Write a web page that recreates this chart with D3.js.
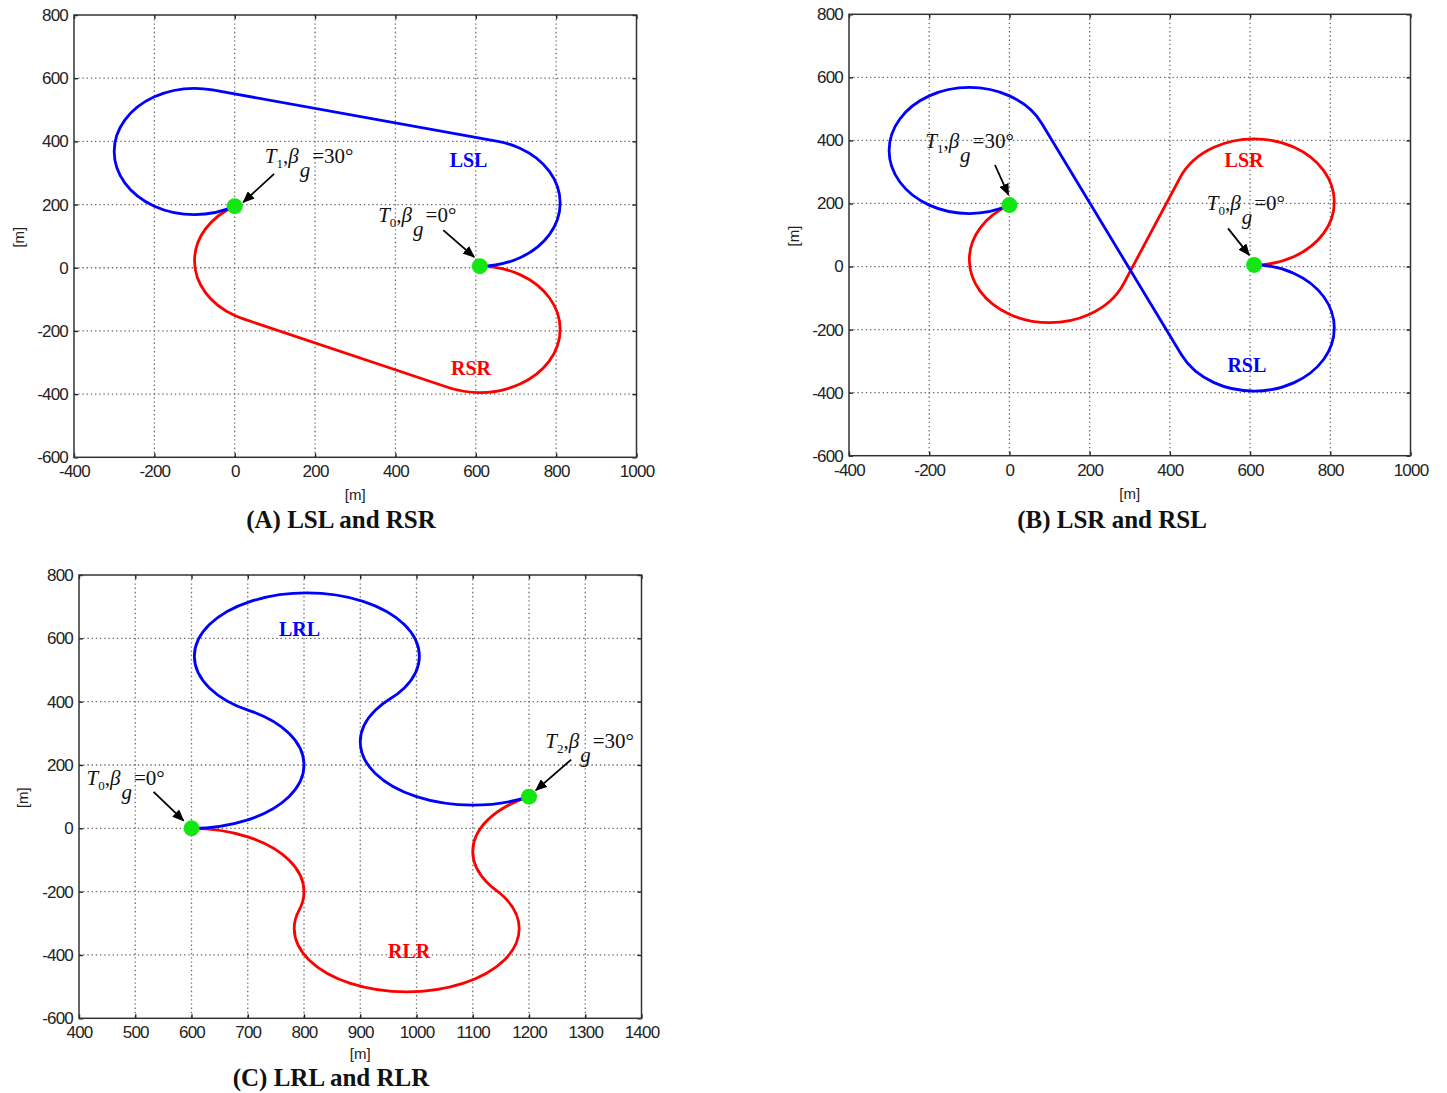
<!DOCTYPE html>
<html>
<head>
<meta charset="utf-8">
<style>
html, body { margin: 0; padding: 0; background: #fff; }
svg { display: block; }
.grid line { stroke: #6e6e6e; stroke-width: 1.3; stroke-dasharray: 1.4,2.8; }
.frame { fill: none; stroke: #333; stroke-width: 1.5; }
.ax .tick line { stroke: #222; stroke-width: 1.4; }
.ticklabel { font-family: "Liberation Sans", Arial, sans-serif; font-size: 17px; fill: #222; letter-spacing: -0.8px; }
.axlabel { font-family: "Liberation Sans", Arial, sans-serif; font-size: 15px; fill: #222; }
.title { font-family: "Liberation Serif", "Times New Roman", serif; font-weight: bold; font-size: 25px; fill: #111; }
.tag { font-family: "Liberation Serif", "Times New Roman", serif; font-weight: bold; font-size: 20px; }
.note { font-family: "Liberation Serif", "Times New Roman", serif; font-size: 21px; fill: #111; }
.route { fill: none; stroke-width: 2.8; stroke-linejoin: round; stroke-linecap: round; }
.arrow { stroke: #000; stroke-width: 1.8; }
</style>
</head>
<body>
<script src="https://cdn.jsdelivr.net/npm/d3@7"></script>
<script>
var width = 1447
var height = 1093

// tick values
var xTicksAB = [-400, -200, 0, 200, 400, 600, 800, 1000]
var xTicksC = [400, 500, 600, 700, 800, 900, 1000, 1100, 1200, 1300, 1400]
var yTicks = [-600, -400, -200, 0, 200, 400, 600, 800]

// turn radius of every arc (m)
var turnRadius = 200

// routes: [x, y, how the leg into this point is flown]
// L = left turn, R = right turn, S = straight
var lslA = [[610, 5], [710, 31.8, 'L'], [783.2, 105, 'L'], [810, 205, 'L'], [783.2, 305, 'L'], [710, 378.2, 'L'], [654.7, 399.9, 'L'],
    [-55.3, 562.9, 'S'], [-100, 568, 'L'], [-200, 541.2, 'L'], [-273.2, 468, 'L'], [-300, 368, 'L'], [-273.2, 268, 'L'], [-200, 194.8, 'L'], [-100, 168, 'L'], [0, 195, 'L']]
var rsrA = [[610, 5], [710, -21.8, 'R'], [783.2, -95, 'R'], [810, -195, 'R'], [783.2, -295, 'R'], [710, -368.2, 'R'], [610, -395, 'R'], [531.7, -379, 'R'],
    [21.7, -162, 'S'], [0, -151.2, 'R'], [-73.2, -78, 'R'], [-100, 22, 'R'], [-73.2, 122, 'R'], [0, 195, 'R']]
var lsrB = [[610, 5], [710, 31.8, 'L'], [783.2, 105, 'L'], [810, 205, 'L'], [783.2, 305, 'L'], [710, 378.2, 'L'], [610, 405, 'L'], [510, 378.2, 'L'], [425.5, 282.1, 'L'],
    [284.5, -55.1, 'S'], [200, -151.2, 'R'], [100, -178, 'R'], [0, -151.2, 'R'], [-73.2, -78, 'R'], [-100, 22, 'R'], [-73.2, 122, 'R'], [0, 195, 'R']]
var rslB = [[610, 5], [710, -21.8, 'R'], [783.2, -95, 'R'], [810, -195, 'R'], [783.2, -295, 'R'], [710, -368.2, 'R'], [610, -395, 'R'], [510, -368.2, 'R'], [429.3, -280.8, 'R'],
    [80.7, 453.8, 'S'], [0, 541.2, 'L'], [-100, 568, 'L'], [-200, 541.2, 'L'], [-273.2, 468, 'L'], [-300, 368, 'L'], [-273.2, 268, 'L'], [-200, 194.8, 'L'], [-100, 168, 'L'], [0, 195, 'L']]
var lrlC = [[600, 0], [700, 26.8, 'L'], [773.2, 100, 'L'], [800, 200, 'L'], [773.2, 300, 'L'], [702.6, 371.7, 'L'],
    [631.9, 443.4, 'R'], [605.1, 543.4, 'R'], [631.9, 643.4, 'R'], [705.1, 716.6, 'R'], [805.1, 743.4, 'R'], [905.1, 716.6, 'R'], [978.3, 643.4, 'R'], [1005.1, 543.4, 'R'], [978.3, 443.4, 'R'], [952.6, 408.3, 'R'],
    [926.8, 373.2, 'L'], [900, 273.2, 'L'], [926.8, 173.2, 'L'], [1000, 100, 'L'], [1100, 73.2, 'L'], [1200, 100, 'L']]
var rlrC = [[600, 0], [700, -26.8, 'R'], [773.2, -100, 'R'], [800, -200, 'R'], [791.3, -258.4, 'R'],
    [782.6, -316.7, 'L'], [809.4, -416.7, 'L'], [882.6, -489.9, 'L'], [982.6, -516.7, 'L'], [1082.6, -489.9, 'L'], [1155.8, -416.7, 'L'], [1182.6, -316.7, 'L'], [1155.8, -216.7, 'L'], [1141.3, -195, 'L'],
    [1126.8, -173.2, 'R'], [1100, -73.2, 'R'], [1126.8, 26.8, 'R'], [1200, 100, 'R']]

// start / goal points
var stopsAB = [[610, 5], [0, 195]]
var stopsC = [[600, 0], [1200, 100]]

// annotations, in data units
var notesA = [{ x: 75, y: 332, sub: '1', val: '=30°' }, { x: 357, y: 146, sub: '0', val: '=0°' }]
var notesB = [{ x: -210, y: 375, sub: '1', val: '=30°' }, { x: 492, y: 179, sub: '0', val: '=0°' }]
var notesC = [{ x: 413.5, y: 137, sub: '0', val: '=0°' }, { x: 1229, y: 255, sub: '2', val: '=30°' }]
var arrowsA = [[[98, 297], [21, 207]], [[519, 119], [596, 34]]]
var arrowsB = [[[-36, 322], [-2.5, 227]], [[545, 121], [598, 36]]]
var arrowsC = [[[532.6, 115], [586, 24]], [[1275, 217], [1212, 120]]]
var tagsA = [{ text: 'LSL', x: 582, y: 320, color: '#0000ff' }, { text: 'RSR', x: 588, y: -340, color: '#ff0000' }]
var tagsB = [{ text: 'LSR', x: 585, y: 317, color: '#ff0000' }, { text: 'RSL', x: 592, y: -335, color: '#0000ff' }]
var tagsC = [{ text: 'LRL', x: 792, y: 606, color: '#0000ff' }, { text: 'RLR', x: 987, y: -409, color: '#ff0000' }]

var svg = d3.select('body').append('svg')
    .attr('width', width)
    .attr('height', height)

svg.append('defs').append('marker')
    .attr('id', 'head')
    .attr('viewBox', '0 0 12 10')
    .attr('refX', 11)
    .attr('refY', 5)
    .attr('markerWidth', 12)
    .attr('markerHeight', 10)
    .attr('markerUnits', 'userSpaceOnUse')
    .attr('orient', 'auto')
    .append('path')
    .attr('d', 'M0,0 L12,5 L0,10 Z')
    .attr('fill', '#000')

var panels = [
    { left: 74, right: 636.5, top: 15, bottom: 457.3, xDomain: [-400, 1000], xTicks: xTicksAB,
      red: rsrA, blue: lslA, stops: stopsAB, notes: notesA, arrows: arrowsA, tags: tagsA,
      title: '(A) LSL and RSR', titleX: 341, titleY: 528, xlabY: 494, ylabX: 18 },
    { left: 849, right: 1410.5, top: 14.3, bottom: 455.7, xDomain: [-400, 1000], xTicks: xTicksAB,
      red: lsrB, blue: rslB, stops: stopsAB, notes: notesB, arrows: arrowsB, tags: tagsB,
      title: '(B) LSR and RSL', titleX: 1112, titleY: 528, xlabY: 493, ylabX: 793 },
    { left: 79, right: 641.5, top: 575, bottom: 1018.3, xDomain: [400, 1400], xTicks: xTicksC,
      red: rlrC, blue: lrlC, stops: stopsC, notes: notesC, arrows: arrowsC, tags: tagsC,
      title: '(C) LRL and RLR', titleX: 331, titleY: 1086, xlabY: 1053, ylabX: 22 }
]

panels.forEach(drawPanel)

function drawPanel(p) {
    var x = d3.scaleLinear().domain(p.xDomain).range([p.left, p.right])
    var y = d3.scaleLinear().domain([-600, 800]).range([p.bottom, p.top])
    var g = svg.append('g')

    // dotted grid
    var grid = g.append('g').attr('class', 'grid')
    grid.selectAll('line.v')
        .data(p.xTicks.slice(1, -1))
        .join('line')
        .attr('class', 'v')
        .attr('x1', function (d) { return x(d) })
        .attr('x2', function (d) { return x(d) })
        .attr('y1', p.top)
        .attr('y2', p.bottom)
    grid.selectAll('line.h')
        .data(yTicks.slice(1, -1))
        .join('line')
        .attr('class', 'h')
        .attr('x1', p.left)
        .attr('x2', p.right)
        .attr('y1', function (d) { return y(d) })
        .attr('y2', function (d) { return y(d) })

    // axes, ticks pointing inward like matlab
    var fmt = function (d) { return String(d) }
    var blank = function () { return '' }
    g.append('g').attr('class', 'ax')
        .attr('transform', 'translate(0,' + p.bottom + ')')
        .call(d3.axisBottom(x).tickValues(p.xTicks).tickSize(-4).tickPadding(8).tickFormat(fmt))
    g.append('g').attr('class', 'ax')
        .attr('transform', 'translate(0,' + p.top + ')')
        .call(d3.axisTop(x).tickValues(p.xTicks).tickSize(-4).tickFormat(blank))
    g.append('g').attr('class', 'ax')
        .attr('transform', 'translate(' + p.left + ',0)')
        .call(d3.axisLeft(y).tickValues(yTicks).tickSize(-4).tickPadding(6).tickFormat(fmt))
    g.append('g').attr('class', 'ax')
        .attr('transform', 'translate(' + p.right + ',0)')
        .call(d3.axisRight(y).tickValues(yTicks).tickSize(-4).tickFormat(blank))
    g.selectAll('.ax .domain').remove()
    g.selectAll('.ax text').attr('class', 'ticklabel')

    g.append('rect')
        .attr('class', 'frame')
        .attr('x', p.left)
        .attr('y', p.top)
        .attr('width', p.right - p.left)
        .attr('height', p.bottom - p.top)

    // routes: arcs of the turn circle (an ellipse on screen, axes are not equal) and straight legs
    var rx = Math.abs(x(turnRadius) - x(0))
    var ry = Math.abs(y(turnRadius) - y(0))
    function routePath(pts) {
        var d = 'M' + x(pts[0][0]) + ',' + y(pts[0][1])
        for (var i = 1; i < pts.length; i++) {
            var px = x(pts[i][0]), py = y(pts[i][1])
            if (pts[i][2] === 'S') {
                d += 'L' + px + ',' + py
            } else {
                // a left turn is counter-clockwise on the page too, so sweep flag 0
                d += 'A' + rx + ',' + ry + ' 0 0 ' + (pts[i][2] === 'L' ? 0 : 1) + ' ' + px + ',' + py
            }
        }
        return d
    }
    g.append('path').attr('class', 'route').attr('stroke', '#ff0000').attr('d', routePath(p.red))
    g.append('path').attr('class', 'route').attr('stroke', '#0000ff').attr('d', routePath(p.blue))

    g.selectAll('circle.stop')
        .data(p.stops)
        .join('circle')
        .attr('class', 'stop')
        .attr('cx', function (d) { return x(d[0]) })
        .attr('cy', function (d) { return y(d[1]) })
        .attr('r', 8)
        .attr('fill', '#14e614')

    // arrows
    g.selectAll('line.arrow')
        .data(p.arrows)
        .join('line')
        .attr('class', 'arrow')
        .attr('x1', function (d) { return x(d[0][0]) })
        .attr('y1', function (d) { return y(d[0][1]) })
        .attr('x2', function (d) { return x(d[1][0]) })
        .attr('y2', function (d) { return y(d[1][1]) })
        .attr('marker-end', 'url(#head)')

    // T_i, beta_g labels
    p.notes.forEach(function (n) {
        var t = g.append('text').attr('class', 'note')
            .attr('x', x(n.x)).attr('y', y(n.y))
        t.append('tspan').attr('font-style', 'italic').text('T')
        t.append('tspan').attr('font-size', 13).attr('dy', 5).text(n.sub)
        t.append('tspan').attr('dy', -5).text(',')
        t.append('tspan').attr('font-style', 'italic').text('β')
        t.append('tspan').attr('font-style', 'italic').attr('dy', 14).attr('dx', 1).text('g')
        t.append('tspan').attr('dy', -14).attr('dx', 2).text(n.val)
    })

    g.selectAll('text.tag')
        .data(p.tags)
        .join('text')
        .attr('class', 'tag')
        .attr('x', function (d) { return x(d.x) })
        .attr('y', function (d) { return y(d.y) })
        .attr('text-anchor', 'middle')
        .attr('fill', function (d) { return d.color })
        .text(function (d) { return d.text })

    // axis labels and caption
    var midX = (p.left + p.right) / 2
    g.append('text').attr('class', 'axlabel')
        .attr('x', midX).attr('y', p.xlabY)
        .attr('text-anchor', 'middle').attr('dominant-baseline', 'central')
        .text('[m]')
    g.append('text').attr('class', 'axlabel')
        .attr('transform', 'translate(' + p.ylabX + ',' + ((p.top + p.bottom) / 2 + 1) + ') rotate(-90)')
        .attr('text-anchor', 'middle').attr('dominant-baseline', 'central')
        .text('[m]')
    g.append('text').attr('class', 'title')
        .attr('x', p.titleX).attr('y', p.titleY)
        .attr('text-anchor', 'middle')
        .text(p.title)
}
</script>
</body>
</html>
